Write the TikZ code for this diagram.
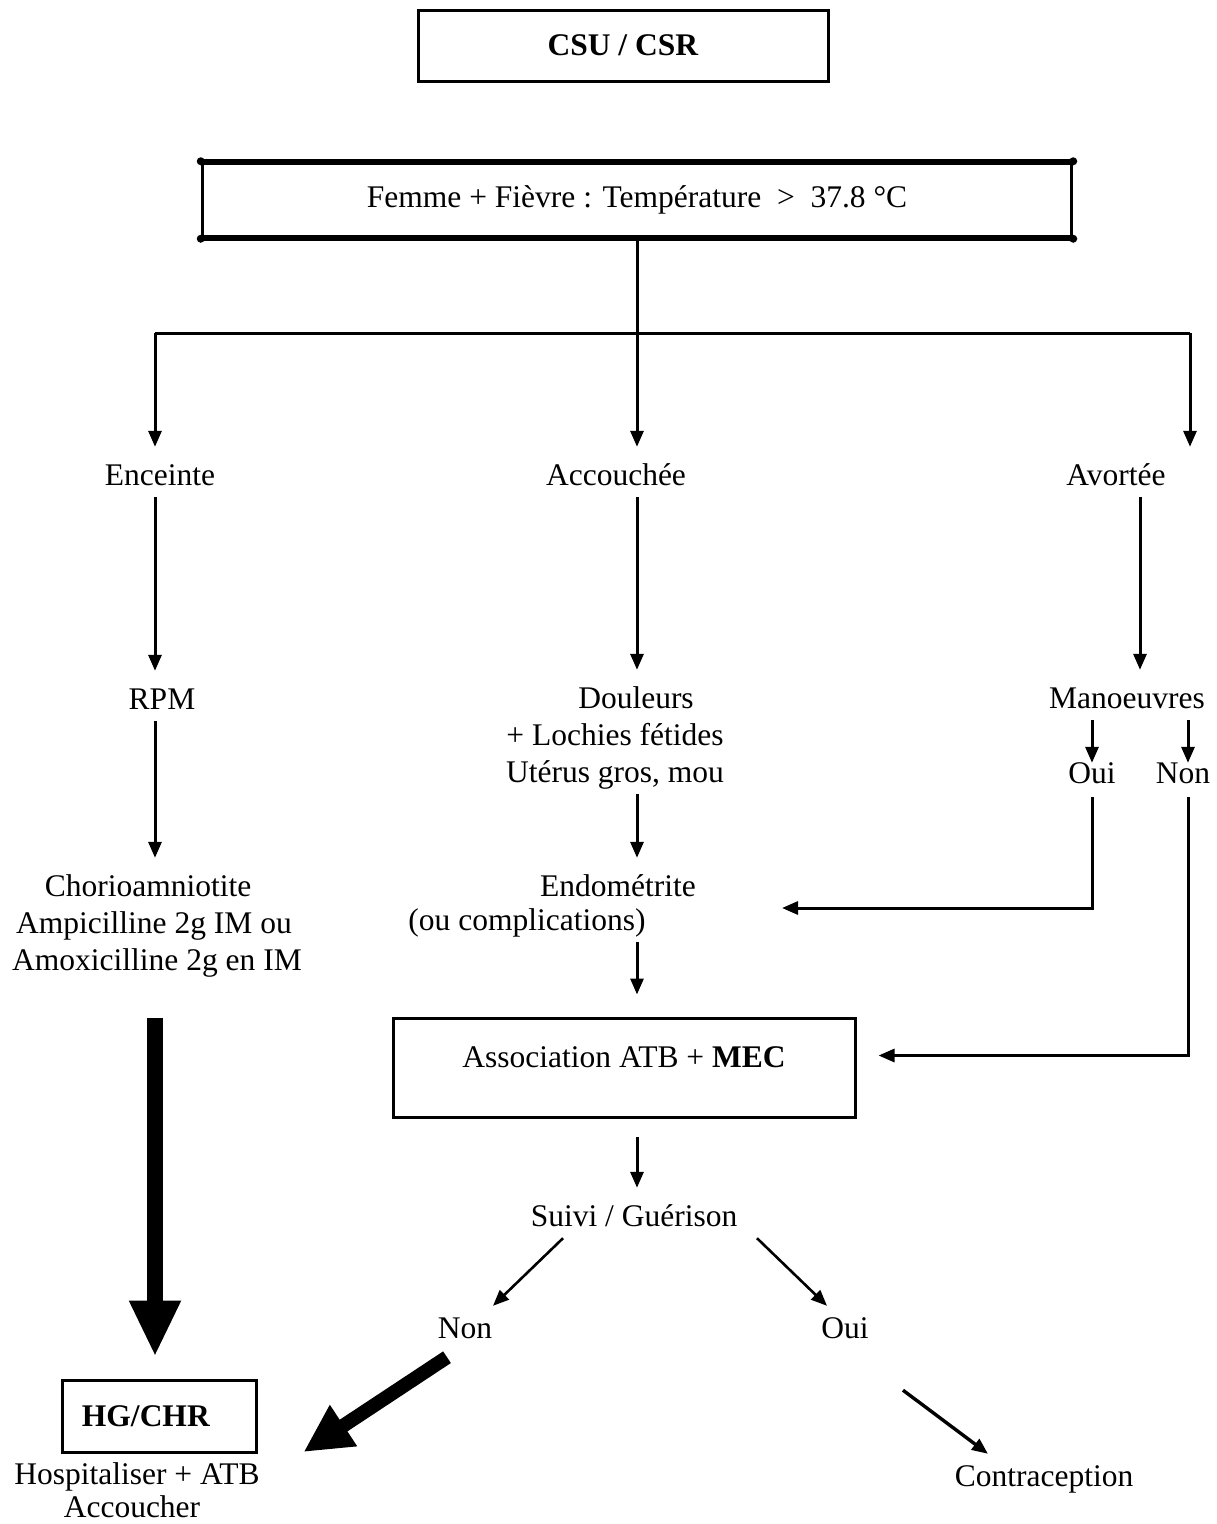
\documentclass[tikz,border=0pt]{standalone}
\usepackage{fontspec}
\setmainfont{Liberation Serif}
\usetikzlibrary{arrows.meta,calc}
\begin{document}
\begin{tikzpicture}[x=1pt,y=-1pt,
  font=\fontsize{31.5pt}{37pt}\selectfont,
  lbl/.style={anchor=base, inner sep=0pt, text height=38pt, text depth=12pt},
  lblt/.style={anchor=base, inner sep=0pt, text height=20pt, text depth=14pt},
  lbllow/.style={anchor=base, inner sep=0pt, text height=22pt, text depth=1pt},
  frame/.style={draw, line width=3pt, inner sep=0pt},
  link/.style={line width=3pt},
  arr/.style={line width=3pt, -{Triangle[length=16pt,width=13pt]}},
  heavy/.style={line width=16pt, -{Triangle[length=56pt,width=48pt]}},
  heavydiag/.style={line width=14pt, -{Triangle[length=48pt,width=46pt]}},
]
\useasboundingbox (0,0) rectangle (1216,1524);

% boxes
\node[frame, minimum width=410pt, minimum height=71pt] (csu) at (623,45.5) {\textbf{CSU / CSR}};
\node[draw, line width=3.5pt, inner sep=0pt, minimum width=869pt, minimum height=74pt] (femme) at (637,200)
  {Femme + Fièvre : Température~ > ~37.8 °C};
\draw[line width=5pt] (femme.north west) -- (femme.north east);
\draw[line width=5pt] (femme.south west) -- (femme.south east);
\foreach \c in {north west,north east,south west,south east} \fill (femme.\c) circle (4pt);
\node[frame, minimum width=462pt, minimum height=99pt, text height=12pt, text depth=12pt] (assoc) at (624,1067.5)
  {Association ATB + \textbf{MEC}};
\node[frame, minimum width=194pt, minimum height=72pt] (hg) at (159,1416) {\textbf{HG/CHR}\hspace*{26pt}};

% labels
\node[lbl] (enc) at (160,485) {Enceinte};
\node[lbl] (acc) at (616,485) {Accouchée};
\node[lbl] (avo) at (1116,485) {Avortée};
\node[lbl] (rpm) at (162,709) {RPM};
\node[lbl] (dou1) at (636,708) {Douleurs};
\node[lbl] (dou2) at (615,745) {+ Lochies fétides};
\node[lbl] (dou3) at (615,782) {Utérus gros, mou};
\node[lbl] (man) at (1127,708) {Manoeuvres};
\node[lblt] (oui1) at (1092,783) {Oui};
\node[lblt] (non1) at (1183,783) {Non};
\node[lbl] (cho1) at (148,896) {Chorioamniotite};
\node[lbl] (cho2) at (154,933) {Ampicilline 2g IM ou};
\node[lbl] (cho3) at (157,970) {Amoxicilline 2g en IM};
\node[lbl] (endo1) at (618,896) {Endométrite};
\node[lbl] (endo2) at (527,930) {(ou complications)};
\node[lbl] (suivi) at (634,1226) {Suivi / Guérison};
\node[lbl] (non2) at (465,1338) {Non};
\node[lbl] (oui2) at (845,1338) {Oui};
\node[lbllow] (hosp1) at (137,1484) {Hospitaliser + ATB};
\node[lbllow] (hosp2) at (132,1517) {Accoucher};
\node[lbllow] (contra) at (1044,1486) {Contraception};

% branching points
\coordinate (jl) at (155,333);
\coordinate (jm) at (637,333);
\coordinate (jr) at (1190,333);
\coordinate (avcol) at (1140,600);
\coordinate (endoin) at (782,908);

% top branching
\draw[link] (femme.south) -- (jm);
\draw[link] (jl) -- (jr);
\draw[arr] (jl) -- (jl |- enc.north);
\draw[arr] (jm) -- (jm |- acc.north);
\draw[arr] (jr) -- (jr |- avo.north);

% left column
\draw[arr] (enc.south -| jl) -- (rpm.north -| jl);
\draw[arr] (rpm.south -| jl) -- (cho1.north -| jl);
\draw[heavy] ($(cho3.south -| jl)+(0,36)$) -- ($(hg.north -| jl)+(0,-22)$);

% middle column
\draw[arr] (acc.south -| jm) -- (dou1.north -| jm);
\draw[arr] (dou3.south -| jm) -- (endo1.north -| jm);
\draw[arr] (endo2.south -| jm) -- ($(assoc.north -| jm)+(0,-22)$);
\draw[arr] ($(assoc.south -| jm)+(0,18)$) -- (suivi.north -| jm);

% right column
\draw[arr] (avo.south -| avcol) -- (man.north -| avcol);
\draw[arr] (man.south -| oui1) -- (oui1.north);
\draw[arr] ($(man.south -| non1)+(5,0)$) -- ($(non1.north)+(5,0)$);
\draw[arr] (oui1.south) |- (endoin);
\draw[arr] ($(non1.south)+(5,0)$) |- ($(assoc.east)+(22,-12)$);

% outcome
\draw[arr, line width=2.6pt] ($(suivi.south)+(-71,0)$) -- ($(non2.north)+(28,6)$);
\draw[arr, line width=2.6pt] ($(suivi.south)+(123,0)$) -- ($(oui2.north)+(-18,6)$);
\draw[heavydiag] ($(non2.south)+(-18,7)$) -- ($(hg.east)+(46,36)$);
\draw[arr, line width=3.4pt] ($(oui2.south)+(58,40)$) -- ($(contra.north)+(-56,-10)$);
\end{tikzpicture}
\end{document}
